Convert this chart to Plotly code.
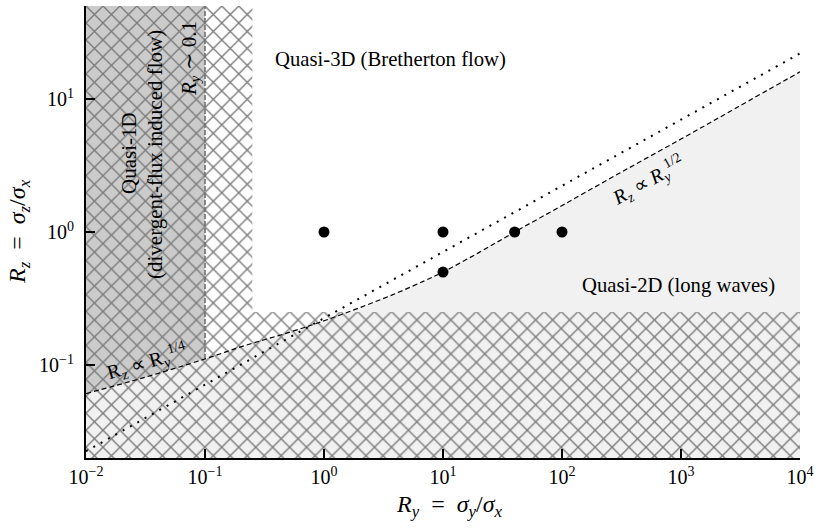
import plotly.graph_objects as go

# ---------------- data ----------------
# dashed boundary curve R_z(R_y)
curve_x = [0.01, 0.03, 0.1, 0.2, 0.5, 1, 2, 4, 7, 10, 20, 40, 100, 300, 1000, 3000, 10000]
curve_y = [0.061, 0.080, 0.111, 0.137, 0.175, 0.215, 0.27, 0.345, 0.43, 0.50, 0.70, 1.0, 1.58, 2.75, 5.0, 8.7, 16.0]
# dotted line
dot_x = [0.01, 1, 10000]
dot_y = [0.0225, 0.225, 22.0]
# experimental points
pts_x = [1, 10, 40, 100, 10]
pts_y = [1, 1, 1, 1, 0.5]
# region limits
x_min, x_max = 0.01, 10000
y_min, y_max = 0.02, 50
ry_1d = 0.1        # quasi-1D limit
hatch_x = 0.25     # hatched vertical strip limit
hatch_y = 0.25     # hatched horizontal strip limit
# ticks
xtick_vals = [0.01, 0.1, 1, 10, 100, 1000, 10000]
xtick_text = ["10<sup>−2</sup>", "10<sup>−1</sup>", "10<sup>0</sup>", "10<sup>1</sup>",
              "10<sup>2</sup>", "10<sup>3</sup>", "10<sup>4</sup>"]
ytick_vals = [0.1, 1, 10]
ytick_text = ["10<sup>−1</sup>", "10<sup>0</sup>", "10<sup>1</sup>"]

FONT = "Liberation Serif"
W, H = 817, 530
L, R, T, B = 86, 17, 6, 72


def px(x, y):
    return (x - L) / (W - L - R), (H - B - y) / (H - T - B)


fig = go.Figure()

# light grey (quasi-2D) region under the dashed curve
fig.add_trace(go.Scatter(
    x=curve_x + [x_max, x_min], y=curve_y + [y_min, y_min],
    mode="none", fill="toself", fillcolor="#f1f1f1", hoverinfo="skip", showlegend=False))

# dark grey (quasi-1D) region
sel = [i for i, v in enumerate(curve_x) if v <= ry_1d]
fig.add_trace(go.Scatter(
    x=[curve_x[i] for i in sel] + [ry_1d, x_min],
    y=[curve_y[i] for i in sel] + [y_max, y_max],
    mode="none", fill="toself", fillcolor="#cbcbcb", hoverinfo="skip", showlegend=False))

# cross hatched region
fig.add_trace(go.Scatter(
    x=[x_min, x_max, x_max, hatch_x, hatch_x, x_min, x_min],
    y=[y_min, y_min, hatch_y, hatch_y, y_max, y_max, y_min],
    mode="none", fill="toself", fillcolor="rgba(0,0,0,0)",
    fillpattern=dict(shape="x", size=12, solidity=0.22, fgcolor="#7c7c7c",
                     bgcolor="rgba(0,0,0,0)", fillmode="replace"),
    hoverinfo="skip", showlegend=False))

# vertical grey dashed line R_y ~ 0.1
fig.add_trace(go.Scatter(
    x=[ry_1d, ry_1d], y=[curve_y[curve_x.index(ry_1d)], y_max], mode="lines",
    line=dict(color="#707070", width=1.6, dash="5px,2px"), hoverinfo="skip", showlegend=False))

# dashed curve
fig.add_trace(go.Scatter(
    x=curve_x, y=curve_y, mode="lines", line=dict(color="black", width=1.2, dash="5px,3px", shape="spline"),
    hoverinfo="skip", showlegend=False))

# dotted line
fig.add_trace(go.Scatter(
    x=dot_x, y=dot_y, mode="lines", line=dict(color="black", width=2, dash="2px,6.4px"),
    hoverinfo="skip", showlegend=False))

# points
fig.add_trace(go.Scatter(
    x=pts_x, y=pts_y, mode="markers", marker=dict(color="black", size=11, line=dict(width=0)),
    hoverinfo="skip", showlegend=False))

ann = []


def add(text, x, y, size=20.7, angle=0):
    ax, ay = px(x, y)
    ann.append(dict(text=text, x=ax, y=ay, xref="paper", yref="paper", showarrow=False,
                    xanchor="center", yanchor="middle", textangle=angle,
                    font=dict(family=FONT, size=size, color="black")))


add("Quasi-3D (Bretherton flow)", 390, 60)
add("Quasi-2D (long waves)", 678, 285)
add("Quasi-1D", 129, 153, size=21, angle=-90)
add("(divergent-flux induced flow)", 155, 155, size=21, angle=-90)
add("<i>R<sub>y</sub></i> ∼ 0.1", 190, 59, size=21, angle=-90)
add("R<sub>z</sub> ∝ R<sub>y</sub><sup>1/4</sup>", 147, 362, size=20, angle=-16)
add("<i>R<sub>z</sub></i> ∝ <i>R<sub>y</sub></i><sup>1/2</sup>", 648, 181, size=20, angle=-29)
add("<i>R<sub>y</sub></i>\u2002=\u2002<i>σ<sub>y</sub></i>/<i>σ<sub>x</sub></i>", 449, 506, size=24)
add("<i>R<sub>z</sub></i>\u2002=\u2002<i>σ<sub>z</sub></i>/<i>σ<sub>x</sub></i>", 19, 232, size=24, angle=-90)

axis_common = dict(type="log", showgrid=False, zeroline=False, showline=True, linecolor="black",
                   linewidth=2, ticks="inside", ticklen=9, tickwidth=2, tickcolor="black",
                   mirror=False, automargin=False, tickfont=dict(family=FONT, size=20, color="black"))

fig.update_layout(
    template="none",
    width=W, height=H, margin=dict(l=L, r=R, t=T, b=B, pad=0),
    paper_bgcolor="white", plot_bgcolor="white",
    xaxis=dict(range=[-2, 4], tickvals=xtick_vals, ticktext=xtick_text, **axis_common),
    yaxis=dict(range=[-1.69897, 1.69897], tickvals=ytick_vals, ticktext=ytick_text,
               ticklabelstandoff=6, **axis_common),
    annotations=ann,
)

fig.write_html("out.html", config={"displayModeBar": False},
               post_script="document.body.style.margin='0px';")
